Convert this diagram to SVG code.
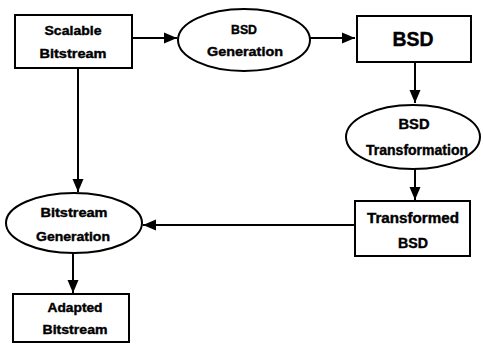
<svg xmlns="http://www.w3.org/2000/svg" width="483" height="344" viewBox="0 0 483 344">
  <style>
    .box { fill: #ffffff; stroke: #000000; stroke-width: 2; }
    .edge { fill: none; stroke: #000000; stroke-width: 2; }
    .lbl { font-family: "Liberation Sans", Arial, sans-serif; font-weight: bold; font-size: 13px; fill: #000000; stroke: #000000; stroke-width: 0.4; text-anchor: middle; }
    .big { font-size: 20px; }
    .mid { font-size: 14px; }
  </style>
  <defs>
    <marker id="arrow" markerUnits="userSpaceOnUse" markerWidth="14" markerHeight="12" refX="13" refY="6" orient="auto">
      <path d="M0,0.5 L13,6 L0,11.5 Z" fill="#000000"/>
    </marker>
  </defs>
  <rect width="483" height="344" fill="#ffffff"/>

  <g id="connectors">
    <line class="edge" x1="132" y1="38" x2="177" y2="38" marker-end="url(#arrow)"/>
    <line class="edge" x1="310" y1="38" x2="355" y2="38" marker-end="url(#arrow)"/>
    <line class="edge" x1="415" y1="62" x2="415" y2="103" marker-end="url(#arrow)"/>
    <line class="edge" x1="415" y1="169" x2="415" y2="200" marker-end="url(#arrow)"/>
    <line class="edge" x1="355" y1="225" x2="143" y2="225" marker-end="url(#arrow)"/>
    <line class="edge" x1="78" y1="68" x2="78" y2="192" marker-end="url(#arrow)"/>
    <line class="edge" x1="73" y1="253" x2="73" y2="293" marker-end="url(#arrow)"/>
  </g>

  <g id="scalable-bitstream">
    <rect class="box" x="15" y="15" width="117" height="53"/>
    <text class="lbl" x="73" y="35" textLength="57" lengthAdjust="spacingAndGlyphs">Scalable</text>
    <text class="lbl" x="73" y="58" textLength="67" lengthAdjust="spacingAndGlyphs">Bitstream</text>
  </g>

  <g id="bsd-generation">
    <ellipse class="box" cx="244" cy="40" rx="66" ry="31"/>
    <text class="lbl" x="244" y="34" textLength="26" lengthAdjust="spacingAndGlyphs">BSD</text>
    <text class="lbl" x="245" y="56" textLength="76" lengthAdjust="spacingAndGlyphs">Generation</text>
  </g>

  <g id="bsd">
    <rect class="box" x="357" y="16" width="114" height="46"/>
    <text class="lbl big" x="413" y="46" textLength="41" lengthAdjust="spacingAndGlyphs">BSD</text>
  </g>

  <g id="bsd-transformation">
    <ellipse class="box" cx="413" cy="137" rx="67" ry="32"/>
    <text class="lbl mid" x="414" y="129" textLength="31" lengthAdjust="spacingAndGlyphs">BSD</text>
    <text class="lbl mid" x="417" y="155" textLength="102" lengthAdjust="spacingAndGlyphs">Transformation</text>
  </g>

  <g id="transformed-bsd">
    <rect class="box" x="355" y="201" width="115" height="55"/>
    <text class="lbl mid" x="413" y="223" textLength="92" lengthAdjust="spacingAndGlyphs">Transformed</text>
    <text class="lbl mid" x="413" y="248" textLength="30" lengthAdjust="spacingAndGlyphs">BSD</text>
  </g>

  <g id="bitstream-generation">
    <ellipse class="box" cx="74" cy="223" rx="68" ry="30"/>
    <text class="lbl" x="74" y="217" textLength="67" lengthAdjust="spacingAndGlyphs">Bitstream</text>
    <text class="lbl" x="73" y="241" textLength="74" lengthAdjust="spacingAndGlyphs">Generation</text>
  </g>

  <g id="adapted-bitstream">
    <rect class="box" x="13" y="294" width="116" height="48"/>
    <text class="lbl" x="75" y="312" textLength="55" lengthAdjust="spacingAndGlyphs">Adapted</text>
    <text class="lbl" x="75" y="334" textLength="65" lengthAdjust="spacingAndGlyphs">Bitstream</text>
  </g>
</svg>
